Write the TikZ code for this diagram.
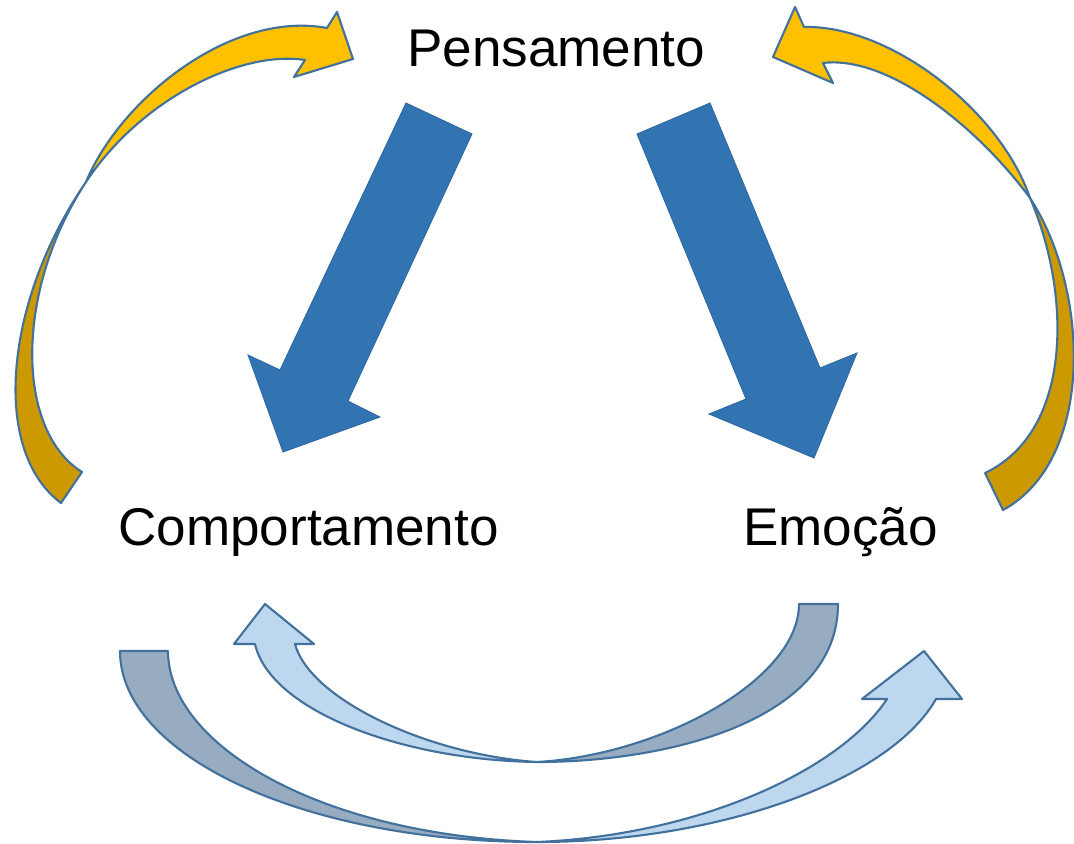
\documentclass[tikz,border=0pt]{standalone}
\usepackage{fontspec}
\setmainfont{Liberation Sans}
\definecolor{blueFill}{HTML}{3274B2}
\definecolor{edgeBlue}{HTML}{41719C}
\definecolor{goldLight}{HTML}{FFC000}
\definecolor{goldDark}{HTML}{CC9900}
\definecolor{paleBlue}{HTML}{BDD7EE}
\definecolor{greyBlue}{HTML}{98ACC1}
\begin{document}
\begin{tikzpicture}[x=0.02cm,y=-0.02cm,
  outl/.style={draw=edgeBlue,line width=1.2pt,line join=round},
  bigarrow/.style={fill=blueFill,draw=blueFill!90!black,line width=0.5pt,line join=miter},
  goldlt/.style={outl,fill=goldLight},
  golddk/.style={outl,fill=goldDark},
  palearrow/.style={outl,fill=paleBlue},
  greyarrow/.style={outl,fill=greyBlue},
  label/.style={anchor=base west,inner sep=0pt,font=\fontsize{30.2pt}{35pt}\selectfont}]
\useasboundingbox (0,0) rectangle (1074,844);

% labels
\node[label] (pens) at (407,67) {Pensamento};
\node[label] (comp) at (118,545) {Comportamento};
\node[label] (emo) at (743,545) {Emoção};

% straight blue arrows
\draw[bigarrow] (406,103) -- (472,134) -- (348,401) -- (380,417) -- (283,452)
  -- (248,355) -- (280,370) -- cycle;
\draw[bigarrow] (637,134) -- (710,103) -- (820,368) -- (857,353) -- (814,458)
  -- (709,414) -- (746,399) -- cycle;

% left curved gold arrow
\draw[golddk] (61,503) .. controls (-10,450) and (5,300) .. (86,182)
  .. controls (15,290) and (15,430) .. (82,472) -- cycle;
\draw[goldlt] (86,182) .. controls (120,100) and (230,10) .. (327,28)
  -- (337,12) -- (353,59) -- (294,77) -- (305,60)
  .. controls (240,50) and (140,100) .. (86,182) -- cycle;

% right curved gold arrow
\draw[goldlt] (1030,198) .. controls (1000,110) and (890,25) .. (804,27)
  -- (795,7) -- (773,57) -- (833,83) -- (823,63)
  .. controls (890,55) and (980,130) .. (1030,198) -- cycle;
\draw[golddk] (1030,198) .. controls (1090,290) and (1095,460) .. (1003,510)
  -- (985,473) .. controls (1075,430) and (1070,290) .. (1030,198) -- cycle;

% small lower arrow (Emocao -> Comportamento)
\draw[greyarrow] (799,604) -- (838,604) .. controls (838,720) and (670,762) .. (537,762)
  .. controls (660,755) and (799,680) .. (799,604) -- cycle;
\draw[palearrow] (537,762) .. controls (400,760) and (270,710) .. (255,644)
  -- (234,644) -- (265,604) -- (314,644) -- (295,644)
  .. controls (310,700) and (430,755) .. (537,762) -- cycle;

% big lower arrow (Comportamento -> Emocao)
\draw[greyarrow] (120,651) -- (168,651) .. controls (168,745) and (320,835) .. (537,842)
  .. controls (305,842) and (120,756) .. (120,651) -- cycle;
\draw[palearrow] (537,842) .. controls (720,842) and (890,780) .. (936,699)
  -- (962,699) -- (924,651) -- (862,699) -- (887,699)
  .. controls (840,770) and (700,835) .. (537,842) -- cycle;
\end{tikzpicture}
\end{document}
